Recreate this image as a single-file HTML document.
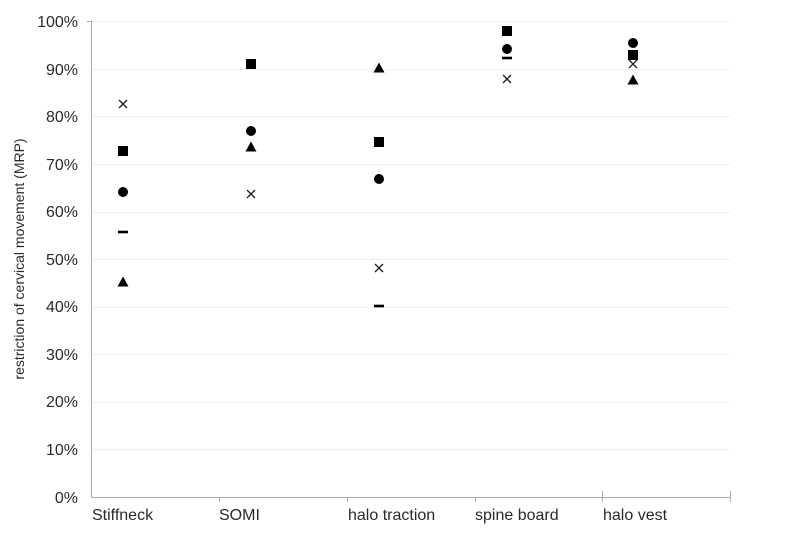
<!DOCTYPE html><html><head><style>body{margin:0;background:#fff}svg{display:block}text{font-family:"Liberation Sans",Arial,sans-serif;fill:#2a2a2a}</style></head><body>
<svg width="800" height="542" viewBox="0 0 800 542">
<defs>
<g id="sq"><rect x="-5" y="-5" width="10" height="10" fill="#000"/></g>
<g id="ci"><circle r="5" fill="#000"/></g>
<g id="tr"><polygon points="0,-5.5 5.5,4.5 -5.5,4.5" fill="#000"/></g>
<g id="xx"><path d="M-4,-4L4,4M4,-4L-4,4" stroke="#222" stroke-width="1.4"/></g>
<g id="da"><rect x="-5" y="-1.3" width="10" height="2.6" fill="#000"/></g>
</defs>
<g stroke="#eee" stroke-width="1">
<line x1="91" y1="21.5" x2="730" y2="21.5"/><line x1="91" y1="69.5" x2="730" y2="69.5"/><line x1="91" y1="116.5" x2="730" y2="116.5"/><line x1="91" y1="164.5" x2="730" y2="164.5"/><line x1="91" y1="212.5" x2="730" y2="212.5"/><line x1="91" y1="259.5" x2="730" y2="259.5"/><line x1="91" y1="307.5" x2="730" y2="307.5"/><line x1="91" y1="354.5" x2="730" y2="354.5"/><line x1="91" y1="402.5" x2="730" y2="402.5"/><line x1="91" y1="449.5" x2="730" y2="449.5"/>
</g>
<g stroke="#aaa" stroke-width="1">
<line x1="91.5" y1="21" x2="91.5" y2="497"/><line x1="91" y1="497.5" x2="731" y2="497.5"/>
<line x1="87" y1="21.5" x2="91" y2="21.5"/>
<line x1="219.5" y1="497" x2="219.5" y2="502"/><line x1="347.5" y1="497" x2="347.5" y2="502"/><line x1="475.5" y1="497" x2="475.5" y2="502"/><line x1="602.5" y1="491" x2="602.5" y2="502"/><line x1="730.5" y1="491" x2="730.5" y2="502"/>
</g>
<g font-size="16" text-anchor="end">
<text x="78" y="27">100%</text><text x="78" y="75">90%</text><text x="78" y="122">80%</text><text x="78" y="170">70%</text><text x="78" y="217">60%</text><text x="78" y="265">50%</text><text x="78" y="312">40%</text><text x="78" y="360">30%</text><text x="78" y="407">20%</text><text x="78" y="455">10%</text><text x="78" y="503">0%</text>
</g>
<text transform="translate(24,259) rotate(-90)" font-size="14" text-anchor="middle">restriction of cervical movement (MRP)</text>
<g font-size="16">
<text x="92" y="520">Stiffneck</text><text x="219" y="520">SOMI</text><text x="348" y="520">halo traction</text><text x="475" y="520">spine board</text><text x="603" y="520">halo vest</text>
</g>
<use href="#xx" x="123" y="104"/><use href="#sq" x="123" y="151"/><use href="#ci" x="123" y="192"/><use href="#da" x="123" y="232"/><use href="#tr" x="123" y="282"/>
<use href="#sq" x="251" y="64"/><use href="#ci" x="251" y="131"/><use href="#tr" x="251" y="147"/><use href="#xx" x="251" y="194"/>
<use href="#tr" x="379" y="68"/><use href="#sq" x="379" y="142"/><use href="#ci" x="379" y="179"/><use href="#xx" x="379" y="268"/><use href="#da" x="379" y="306"/>
<use href="#sq" x="507" y="31"/><use href="#ci" x="507" y="49"/><use href="#da" x="507" y="58"/><use href="#xx" x="507" y="79"/>
<use href="#ci" x="633" y="43"/><use href="#sq" x="633" y="55"/><use href="#xx" x="633" y="64"/><use href="#tr" x="633" y="80"/>
</svg></body></html>
